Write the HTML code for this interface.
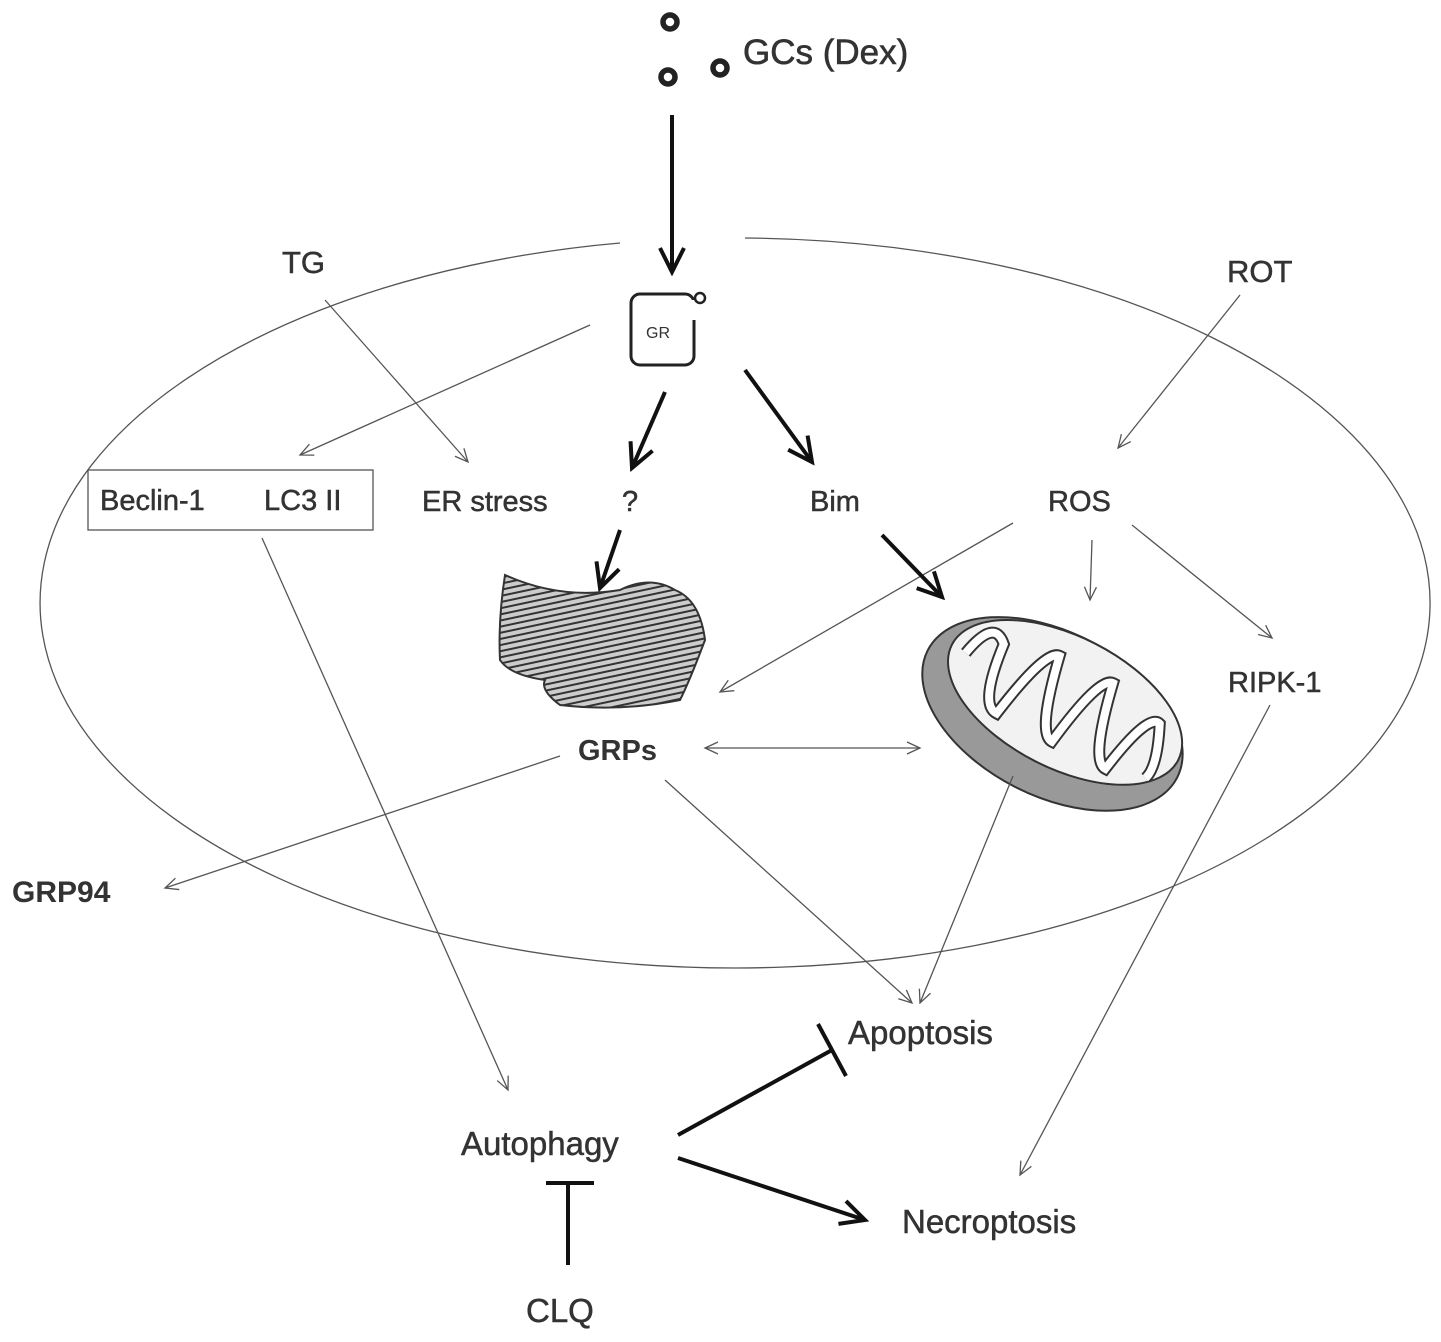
<!DOCTYPE html>
<html><head><meta charset="utf-8"><style>body{margin:0;background:#fff}svg{display:block}text{font-family:"Liberation Sans",sans-serif;fill:#333}</style></head><body>
<svg width="1441" height="1342" viewBox="0 0 1441 1342" xmlns="http://www.w3.org/2000/svg">
<defs>
<marker id="t" markerWidth="16" markerHeight="14" refX="14" refY="7" orient="auto" markerUnits="userSpaceOnUse"><path d="M1,1 L14,7 L1,13" fill="none" stroke="#555" stroke-width="1.3"/></marker>
<marker id="T" markerWidth="30" markerHeight="28" refX="26" refY="14" orient="auto" markerUnits="userSpaceOnUse"><path d="M2,2 L26,14 L2,26" fill="none" stroke="#111" stroke-width="4"/></marker>
<marker id="ts" markerWidth="16" markerHeight="14" refX="2" refY="7" orient="auto" markerUnits="userSpaceOnUse"><path d="M15,1 L2,7 L15,13" fill="none" stroke="#555" stroke-width="1.3"/></marker>
<pattern id="hatch" width="8" height="6" patternUnits="userSpaceOnUse" patternTransform="rotate(-12)"><rect width="8" height="6" fill="#ccc"/><path d="M0,3 H8" stroke="#333" stroke-width="2"/></pattern>
</defs>
<path d="M620,243 A695,365 0 1 0 745,238" fill="none" stroke="#555" stroke-width="1.3"/>
<g fill="none" stroke="#222" stroke-width="5.5"><circle cx="670" cy="22" r="7"/><circle cx="668" cy="77" r="7"/><circle cx="720" cy="68" r="7"/></g>
<text x="743" y="64" font-size="35" stroke="#333" stroke-width="0.6">GCs (Dex)</text>
<line x1="672" y1="115" x2="672" y2="272" stroke="#111" stroke-width="4" marker-end="url(#T)"/>
<rect x="631" y="294" width="63" height="71" rx="9" fill="none" stroke="#222" stroke-width="3"/>
<rect x="686" y="300" width="12" height="20" fill="#fff"/>
<circle cx="700" cy="298" r="5" fill="none" stroke="#222" stroke-width="2.5"/>
<text x="646" y="338" font-size="16">GR</text>
<g stroke="#333" stroke-width="0.5">
<text x="282" y="273" font-size="31">TG</text>
<text x="1227" y="282" font-size="31">ROT</text>
<text x="100" y="510" font-size="29">Beclin-1</text>
<text x="264" y="510" font-size="29">LC3 II</text>
<text x="422" y="511" font-size="29">ER stress</text>
<text x="622" y="511" font-size="29">?</text>
<text x="810" y="511" font-size="29">Bim</text>
<text x="1048" y="511" font-size="29">ROS</text>
<text x="1228" y="692" font-size="29">RIPK-1</text>
<text x="848" y="1044" font-size="33">Apoptosis</text>
<text x="461" y="1155" font-size="33">Autophagy</text>
<text x="902" y="1233" font-size="33">Necroptosis</text>
<text x="526" y="1322" font-size="33">CLQ</text>
</g>
<rect x="88" y="470" width="285" height="60" fill="none" stroke="#555" stroke-width="1.3"/>
<text x="578" y="760" font-size="29" font-weight="bold" fill="#333">GRPs</text>
<text x="12" y="902" font-size="30" font-weight="bold">GRP94</text>
<path d="M505,575 Q560,600 620,590 Q650,575 675,590 Q700,600 705,640 Q690,680 680,700 Q620,712 560,705 Q540,690 545,680 Q510,675 500,660 Q498,620 505,575 Z" fill="url(#hatch)" stroke="#333" stroke-width="2"/>
<g transform="translate(1057,705) rotate(27)">
<ellipse cx="0" cy="10" rx="140" ry="82" fill="#999" stroke="#333" stroke-width="2"/>
<ellipse cx="6" cy="-6" rx="127" ry="66" fill="#f2f2f2" stroke="#333" stroke-width="2"/>
<path d="M-105,-5 Q-95,-50 -75,-30 Q-70,35 -50,35 Q-35,-45 -20,-45 Q-5,35 12,35 Q25,-45 40,-45 Q55,35 72,35 Q85,-35 100,-30 Q118,10 112,25" fill="none" stroke="#333" stroke-width="12"/>
<path d="M-105,-5 Q-95,-50 -75,-30 Q-70,35 -50,35 Q-35,-45 -20,-45 Q-5,35 12,35 Q25,-45 40,-45 Q55,35 72,35 Q85,-35 100,-30 Q118,10 112,25" fill="none" stroke="#fff" stroke-width="8"/>
</g>
<g stroke="#555" stroke-width="1.3" fill="none" marker-end="url(#t)">
<line x1="590" y1="325" x2="300" y2="455"/>
<line x1="325" y1="300" x2="468" y2="462"/>
<line x1="1240" y1="295" x2="1118" y2="448"/>
<line x1="1013" y1="523" x2="720" y2="692"/>
<line x1="1092" y1="540" x2="1090" y2="600"/>
<line x1="1132" y1="525" x2="1272" y2="638"/>
<line x1="705" y1="748" x2="920" y2="748" marker-start="url(#ts)"/>
<line x1="560" y1="756" x2="165" y2="888"/>
<line x1="262" y1="538" x2="508" y2="1090"/>
<line x1="665" y1="780" x2="912" y2="1003"/>
<line x1="1013" y1="776" x2="920" y2="1003"/>
<line x1="1270" y1="705" x2="1020" y2="1175"/>
</g>
<g stroke="#111" stroke-width="4" fill="none">
<line x1="665" y1="392" x2="632" y2="468" marker-end="url(#T)"/>
<line x1="620" y1="530" x2="600" y2="588" marker-end="url(#T)"/>
<line x1="745" y1="370" x2="812" y2="462" marker-end="url(#T)"/>
<line x1="882" y1="535" x2="942" y2="597" marker-end="url(#T)"/>
<line x1="678" y1="1158" x2="865" y2="1220" marker-end="url(#T)"/>
<line x1="678" y1="1135" x2="832" y2="1050"/>
<line x1="818" y1="1024" x2="846" y2="1076"/>
<line x1="568" y1="1265" x2="568" y2="1183"/>
<line x1="546" y1="1183" x2="594" y2="1183"/>
</g>
</svg>
</body></html>
